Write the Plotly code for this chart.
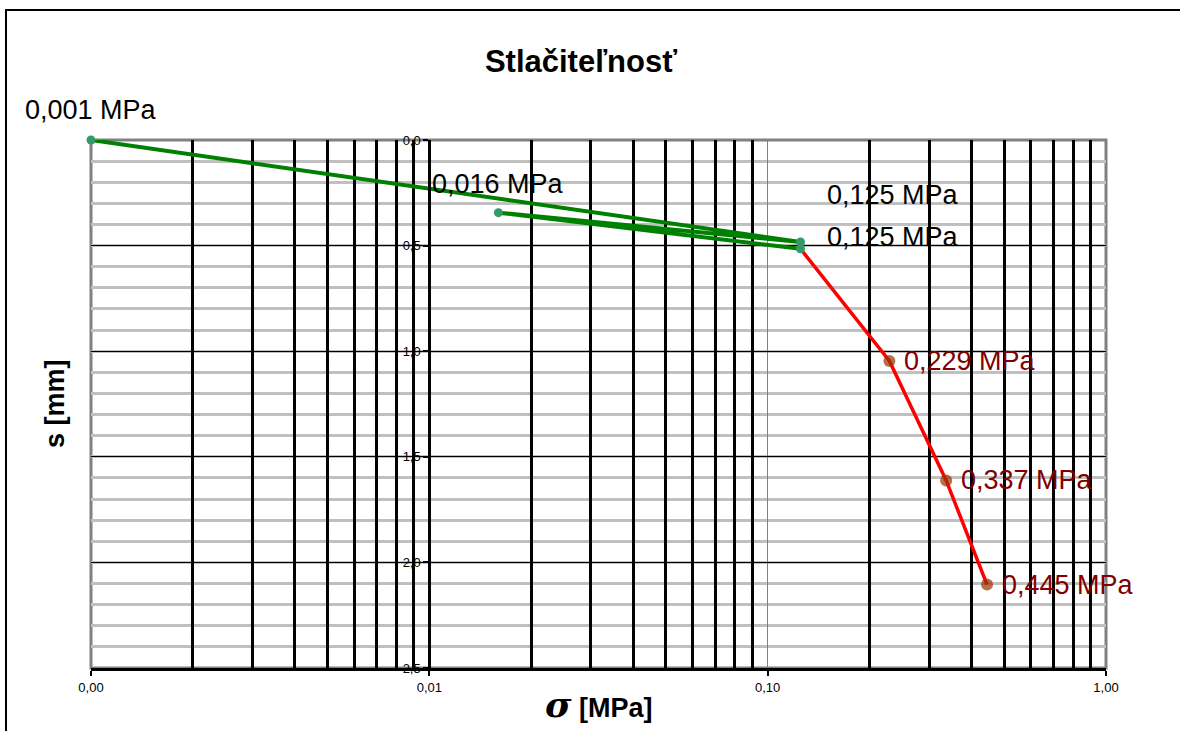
import numpy as np
import plotly.graph_objects as go

# Oedometer test: loading / unloading / reloading branch (green), further loading (red)
sigma_green = [0.001, 0.125, 0.016, 0.125]
s_green = [0.0, 0.483, 0.344, 0.515]
labels_green = ["0,001 MPa", "0,125 MPa", "0,016 MPa", "0,125 MPa"]

sigma_red = [0.125, 0.229, 0.337, 0.445]
s_red = [0.515, 1.046, 1.612, 2.105]
labels_red = ["", "0,229 MPa", "0,337 MPa", "0,445 MPa"]

x_ticks = [0.001, 0.01, 0.1, 1.0]
x_ticktext = ["0,00", "0,01", "0,10", "1,00"]
x_minor = [m * d for d in (0.001, 0.01, 0.1) for m in range(2, 10)]
y_ticks = [0.0, 0.5, 1.0, 1.5, 2.0, 2.5]
y_ticktext = ["0,0", "0,5", "1,0", "1,5", "2,0", "2,5"]

FONT = "Liberation Sans, Arial, sans-serif"

fig = go.Figure()

fig.add_trace(go.Scatter(
    x=sigma_red, y=s_red, mode="lines+markers", xaxis="x", yaxis="y",
    line=dict(color="#ff0000", width=3.5),
    marker=dict(color="#993300", size=[0, 12, 12, 12], line=dict(width=0)),
    cliponaxis=False, hoverinfo="x+y", showlegend=False,
))
fig.add_trace(go.Scatter(
    x=sigma_green, y=s_green, mode="lines+markers", xaxis="x2", yaxis="y2",
    line=dict(color="#008000", width=4),
    marker=dict(color="#339966", size=9, line=dict(width=0)),
    cliponaxis=False, hoverinfo="x+y", showlegend=False,
))

# point labels: (xshift, yshift, xanchor)
green_offsets = [(0, 30, "center"), (25, 47, "left"), (0, 29, "center"), (25, 12, "left")]
red_offsets = [(0, 0, "left"), (13, 0, "left"), (13, 0, "left"), (13, 0, "left")]

annotations = []
for xv, yv, txt, (dx, dy, xa) in zip(sigma_green, s_green, labels_green, green_offsets):
    annotations.append(dict(
        x=np.log10(xv), y=yv, xref="x", yref="y", text=txt, showarrow=False,
        xanchor=xa, yanchor="middle", xshift=dx, yshift=dy,
        font=dict(family=FONT, size=27, color="#000000"),
    ))
for xv, yv, txt, (dx, dy, xa) in zip(sigma_red, s_red, labels_red, red_offsets):
    if not txt:
        continue
    annotations.append(dict(
        x=np.log10(xv), y=yv, xref="x", yref="y", text=txt, showarrow=False,
        xanchor=xa, yanchor="middle", xshift=dx, yshift=dy,
        font=dict(family=FONT, size=27, color="#800000"),
    ))

# axis titles
annotations.append(dict(
    x=0.5, y=-36 / 528, xref="paper", yref="paper", showarrow=False,
    xanchor="center", yanchor="middle",
    text="<b><i><span style='font-family:DejaVu Serif;font-size:36px'>σ</span></i> [MPa]</b>",
    font=dict(family=FONT, size=27, color="#000000"),
))
annotations.append(dict(
    x=-36 / 1015, y=0.5, xref="paper", yref="paper", showarrow=False,
    xanchor="center", yanchor="middle", textangle=-90,
    text="<b>s [mm]</b>", font=dict(family=FONT, size=27, color="#000000"),
))

fig.update_layout(
    width=1180, height=731,
    margin=dict(l=91, r=74, t=140, b=63),
    paper_bgcolor="white", plot_bgcolor="rgba(0,0,0,0)",
    font=dict(family=FONT, color="#000000"),
    title=dict(
        text="<b>Stlačiteľnosť</b>", x=581 / 1180, y=1 - 61 / 731,
        xanchor="center", yanchor="middle", xref="container", yref="container",
        font=dict(family=FONT, size=31, color="#000000"),
    ),
    xaxis=dict(
        type="log", range=[-3, 0], domain=[0, 1], anchor="y",
        tickvals=x_ticks, ticktext=x_ticktext,
        tickfont=dict(size=13, color="#000000"),
        ticks="outside", ticklen=5, tickwidth=2, tickcolor="#000000",
        showgrid=True, gridcolor="#808080", gridwidth=1,
        showline=True, linecolor="#000000", linewidth=3,
        zeroline=False,
    ),
    xaxis2=dict(
        type="log", range=[-3, 0], overlaying="x", anchor="y2",
        tickvals=x_minor, showticklabels=False, ticks="",
        showgrid=True, gridcolor="#000000", gridwidth=2.5,
        showline=False, zeroline=False,
    ),
    yaxis=dict(
        range=[2.5, 0], domain=[0, 1], anchor="x",
        tickvals=y_ticks, showticklabels=False, ticks="",
        showgrid=True, gridcolor="#000000", gridwidth=1,
        minor=dict(dtick=0.1, showgrid=True, gridcolor="#c0c0c0", gridwidth=2.5),
        showline=False, zeroline=False,
    ),
    yaxis2=dict(
        range=[2.5, 0], overlaying="y", anchor="free", position=1 / 3,
        tickvals=y_ticks, ticktext=y_ticktext,
        tickfont=dict(size=13, color="#000000"),
        ticks="outside", ticklen=5, tickwidth=2, tickcolor="#000000",
        showgrid=False, showline=True, linecolor="#000000", linewidth=3,
        zeroline=False,
    ),
    annotations=annotations,
    shapes=[
        # grey frame of the plot area
        dict(type="rect", xref="paper", yref="paper", x0=0, x1=1, y0=0, y1=1,
             line=dict(color="#808080", width=3), layer="below"),
        # outer chart frame
        dict(type="rect", xref="paper", yref="paper",
             x0=-85 / 1015, x1=1.3, y0=-0.5, y1=1 + 130 / 528,
             line=dict(color="#000000", width=2), layer="below"),
    ],
)

fig.write_html("out.html")
